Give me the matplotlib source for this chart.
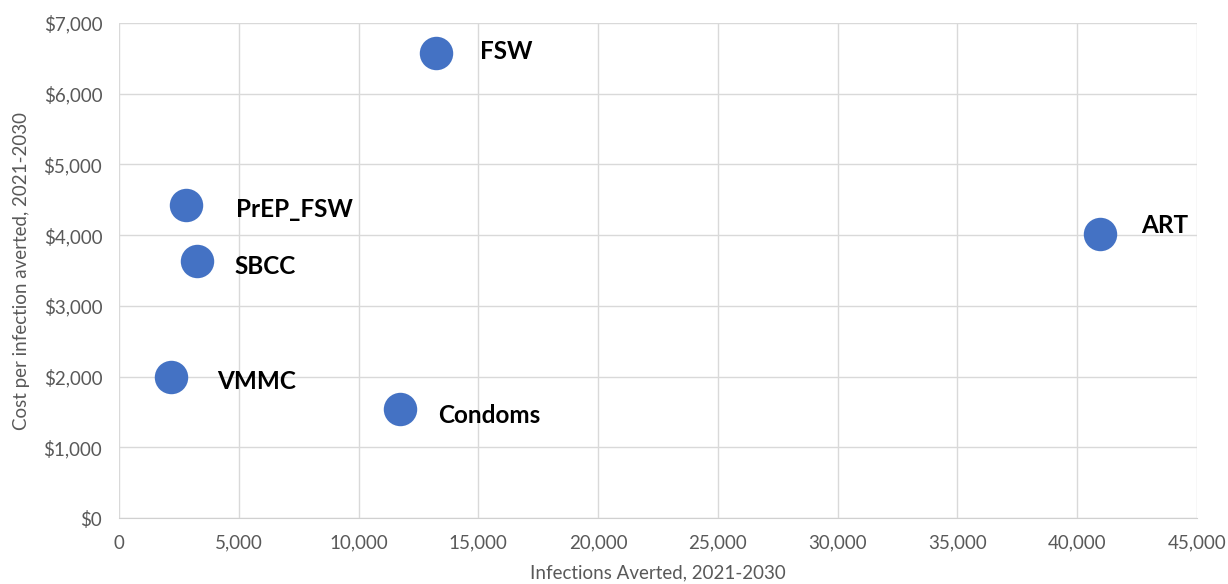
import matplotlib.pyplot as plt
from matplotlib.ticker import FuncFormatter

plt.rcParams['font.family'] = ['Lato', 'DejaVu Sans']

names = ['FSW', 'PrEP_FSW', 'SBCC', 'VMMC', 'Condoms', 'ART']
infections_averted = [13250, 2800, 3250, 2150, 11750, 40950]
cost_per_infection = [6580, 4420, 3640, 2000, 1540, 4020]
# label offsets in pixels (dx, dy)
label_offsets = [(44, 1), (50, -4), (38, -6), (47, -5), (38, -6), (41, 8)]

fig = plt.figure(figsize=(12.28, 5.84), dpi=100)
ax = fig.add_axes([0.0969, 0.113, 0.8779, 0.8476])

ax.scatter(infections_averted, cost_per_infection, s=580, color='#4472C4',
           zorder=3, linewidths=0)

for name, x, y, (dx, dy) in zip(names, infections_averted, cost_per_infection, label_offsets):
    ax.annotate(name, (x, y), xytext=(dx * 0.72, dy * 0.72), textcoords='offset points',
                ha='left', va='center', fontsize=17.5, fontweight='bold', color='black')

ax.set_xlim(0, 45000)
ax.set_ylim(0, 7000)
ax.set_xticks(range(0, 45001, 5000))
ax.set_yticks(range(0, 7001, 1000))
ax.xaxis.set_major_formatter(FuncFormatter(lambda v, p: f'{int(v):,}'))
ax.yaxis.set_major_formatter(FuncFormatter(lambda v, p: f'${int(v):,}'))

ax.grid(color='#d9d9d9', linewidth=1)
ax.set_axisbelow(True)
for side in ['top', 'right', 'left']:
    ax.spines[side].set_visible(False)
ax.spines['bottom'].set_color('#d0d0d0')
ax.tick_params(length=0, labelsize=13.5, labelcolor='#595959', pad=12)

ax.set_xlabel('Infections Averted, 2021-2030', fontsize=13.5, color='#595959', labelpad=9)
ax.set_ylabel('Cost per infection averted, 2021-2030', fontsize=13.5, color='#595959', labelpad=10)

fig.savefig('out.png', dpi=100)
